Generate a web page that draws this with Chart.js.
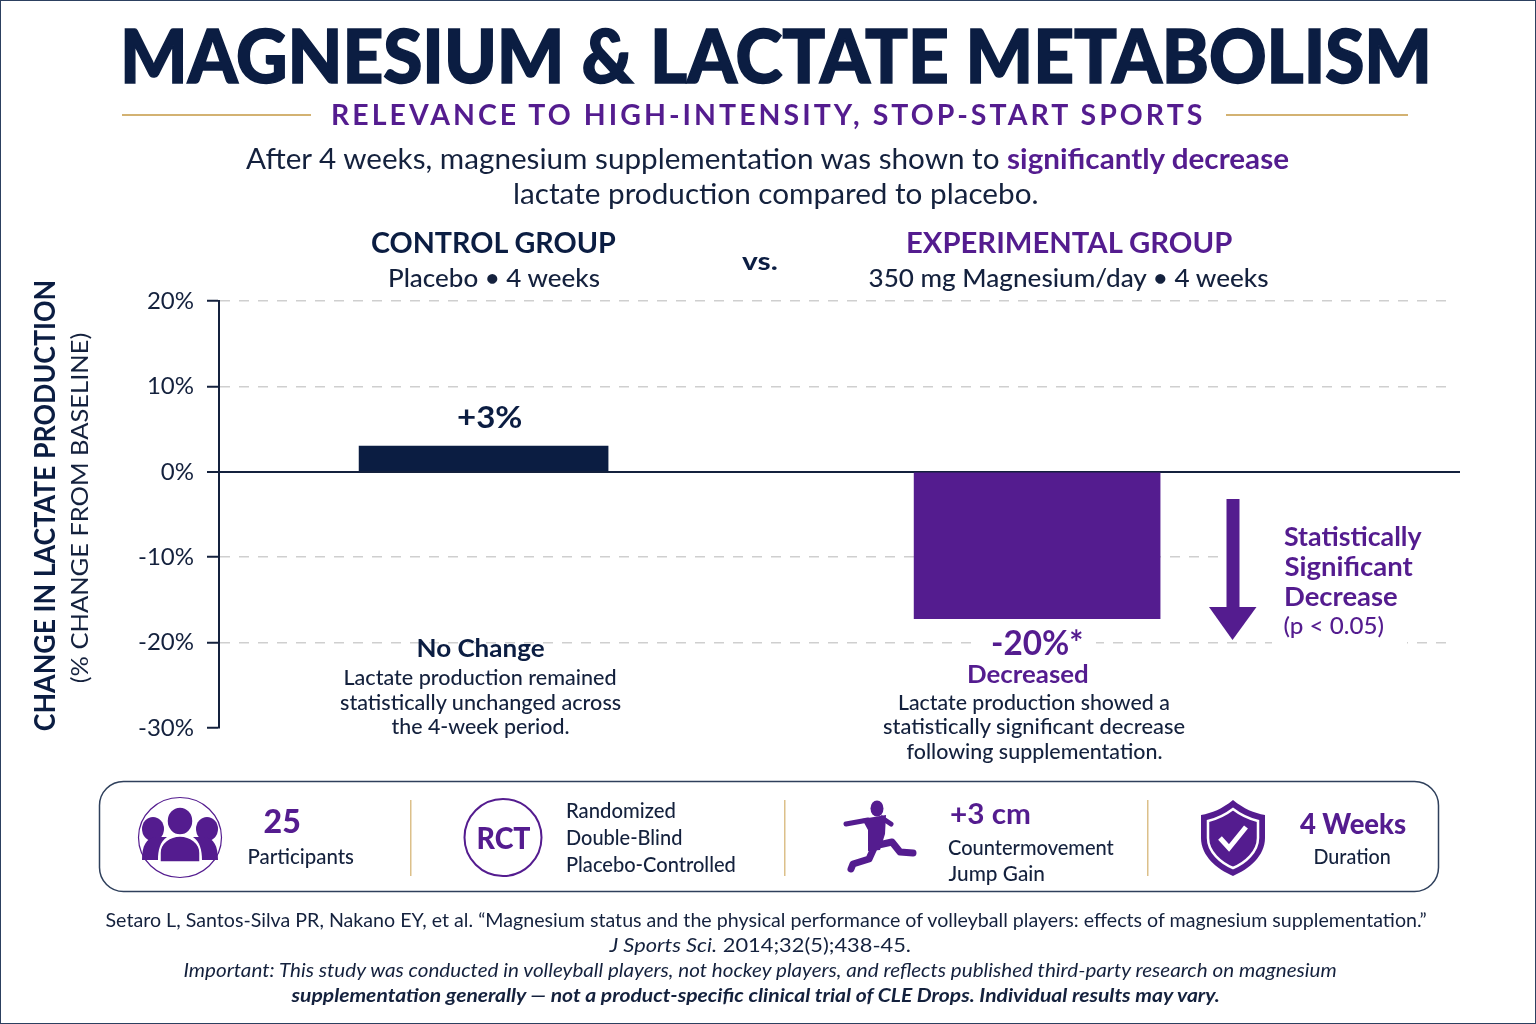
<!DOCTYPE html>
<html>
<head>
<meta charset="utf-8">
<title>Magnesium & Lactate Metabolism</title>
<script src="https://cdn.jsdelivr.net/npm/chart.js@4"></script>
<style>
  html, body { margin: 0; padding: 0; background: #fff; }
  body { width: 1536px; height: 1024px; overflow: hidden; position: relative; font-family: Lato, sans-serif; color: #14213d; }
  #frame { position: absolute; inset: 0; border: 1px solid #2c4060; box-sizing: border-box; z-index: 9; pointer-events: none; }
  canvas { position: absolute; left: 0; top: 0; }
  svg { position: absolute; left: 0; top: 0; }
  .t { position: absolute; white-space: nowrap; line-height: 1; transform-origin: center center; }
  .b { font-weight: 700; }
  .p { color: #541c8f; }
  .n { color: #0b1d42; }
  .mask { position: absolute; background: #fff; }
</style>
</head>
<body>
<div id="frame"></div>
<canvas id="myChart" width="1536" height="1024"></canvas>

<div class="mask" style="left:1240px;top:525px;width:225px;height:55px"></div>
<div class="mask" style="left:1272px;top:630px;width:135px;height:20px"></div>
<div class="mask" style="left:976px;top:630px;width:120px;height:24px"></div>
<div class="mask" style="left:1453px;top:295px;width:10px;height:170px"></div>
<div class="mask" style="left:1453px;top:480px;width:10px;height:170px"></div>

<svg width="1536" height="1024" viewBox="0 0 1536 1024">
  <!-- gold rules -->
  <rect x="122" y="114" width="189" height="2" fill="#d3b272"/>
  <rect x="1226" y="114" width="182" height="2" fill="#d3b272"/>

  <!-- arrow -->
  <rect x="1226.500" y="499" width="13" height="110" fill="#541c8f"/>
  <polygon points="1209,607 1256.500,607 1232.500,640" fill="#541c8f"/>

  <!-- panel -->
  <rect x="99.500" y="781.500" width="1339" height="110" rx="24" fill="#fff" stroke="#2f405c" stroke-width="1.500"/>
  <rect x="410" y="800" width="1.500" height="76" fill="#dcc08a"/>
  <rect x="784" y="800" width="1.500" height="76" fill="#dcc08a"/>
  <rect x="1147" y="800" width="1.500" height="76" fill="#dcc08a"/>

  <!-- participants icon -->
  <ellipse cx="180" cy="837.500" rx="41.500" ry="40" fill="#fff" stroke="#541c8f" stroke-width="1.200"/>
  <g fill="#541c8f">
    <ellipse cx="153" cy="829" rx="11" ry="12"/>
    <ellipse cx="207" cy="829" rx="11" ry="12"/>
    <path d="M142 860 C142 846 146 838 156 837 L167 837 C160 842 158 850 158 860 Z"/>
    <path d="M218 860 C218 846 214 838 204 837 L193 837 C200 842 202 850 202 860 Z"/>
    <ellipse cx="180" cy="821" rx="13" ry="14" stroke="#fff" stroke-width="1.500"/>
    <path d="M160 862 L160 853 C160 843 170 836 180 836 C190 836 200 843 200 853 L200 862 Z" stroke="#fff" stroke-width="1.500"/>
  </g>

  <!-- RCT icon -->
  <circle cx="503" cy="837.500" r="38.500" fill="#fff" stroke="#541c8f" stroke-width="2"/>

  <!-- jumper icon -->
  <g fill="none" stroke="#541c8f" stroke-linecap="round" stroke-linejoin="round">
    <path d="M846 824 L868 820" stroke-width="5"/>
    <path d="M882 818 L891 824" stroke-width="5"/>
    <path d="M874 846 L892 842 L900 852 L913 853" stroke-width="7"/>
    <path d="M874 848 L869 859 L853 864 L851 869" stroke-width="7"/>
  </g>
  <g fill="#541c8f">
    <ellipse cx="877" cy="808.500" rx="6.500" ry="8"/>
    <path d="M862 819 L886 815 L885 834 L880 850 L868 851 L868 830 Z"/>
  </g>

  <!-- shield icon -->
  <path d="M1233 800 C1222 809 1212 813 1201 815 L1201 838 C1201 856 1217 869 1233 876 C1249 869 1265 856 1265 838 L1265 815 C1254 813 1244 809 1233 800 Z" fill="#541c8f"/>
  <path d="M1233 809 C1224 816 1216 819 1208 821 L1208 838 C1208 852 1221 863 1233 868 C1245 863 1258 852 1258 838 L1258 821 C1250 819 1242 816 1233 809 Z" fill="none" stroke="#fff" stroke-width="2.500"/>
  <path d="M1220 838 L1229 848 L1246 827" fill="none" stroke="#fff" stroke-width="5"/>
</svg>

<!-- header -->
<div class="t b n" data-c="776,56.500" data-w="1312" style="font-size:74px;font-weight:900;-webkit-text-stroke:1.500px #0b1d42">MAGNESIUM &amp; LACTATE METABOLISM</div>
<div class="t b p" data-c="768,115" data-w="874" style="font-size:28px;letter-spacing:3px">RELEVANCE TO HIGH-INTENSITY, STOP-START SPORTS</div>
<div class="t" data-c="767,159" data-w="1043" style="font-size:28px">After 4 weeks, magnesium supplementation was shown to <span class="b p">significantly decrease</span></div>
<div class="t" data-c="776,194" data-w="526" style="font-size:28px">lactate production compared to placebo.</div>

<!-- group headers -->
<div class="t b n" data-c="493,243" data-w="245" style="font-size:28px">CONTROL GROUP</div>
<div class="t" data-c="494,279" data-w="212" style="font-size:25px;font-weight:500">Placebo • 4 weeks</div>
<div class="t b n" data-c="760,262" data-w="36" style="font-size:25px">vs.</div>
<div class="t b p" data-c="1069,243" data-w="326" style="font-size:28px">EXPERIMENTAL GROUP</div>
<div class="t" data-c="1068,279" data-w="400" style="font-size:25px;font-weight:500">350 mg Magnesium/day • 4 weeks</div>

<!-- axis titles -->
<div class="t b n" data-c="43,507" data-w="451" data-rot="1" style="font-size:29px">CHANGE IN LACTATE PRODUCTION</div>
<div class="t" data-c="79,509" data-w="350" data-rot="1" style="font-size:24px">(% CHANGE FROM BASELINE)</div>

<!-- bar notes -->
<div class="t b n" data-c="489,418" data-w="65" style="font-size:31px">+3%</div>
<div class="t b n" data-c="480,649" data-w="128" style="font-size:25px">No Change</div>
<div class="t" data-c="480,678" data-w="273" style="font-size:21px;font-weight:500">Lactate production remained</div>
<div class="t" data-c="480,703" data-w="281" style="font-size:21px;font-weight:500">statistically unchanged across</div>
<div class="t" data-c="480,727" data-w="178" style="font-size:21px;font-weight:500">the 4-week period.</div>

<div class="t b p" data-c="1037,643" data-w="92" style="font-size:34px">-20%*</div>
<div class="t b p" data-c="1028,675" data-w="122" style="font-size:25px">Decreased</div>
<div class="t" data-c="1034,703" data-w="272" style="font-size:21px;font-weight:500">Lactate production showed a</div>
<div class="t" data-c="1034,727" data-w="302" style="font-size:21px;font-weight:500">statistically significant decrease</div>
<div class="t" data-c="1034,752" data-w="256" style="font-size:21px;font-weight:500">following supplementation.</div>

<div class="t b p" data-c="1353,537" data-w="138" style="font-size:26px">Statistically</div>
<div class="t b p" data-c="1348,567" data-w="128" style="font-size:26px">Significant</div>
<div class="t b p" data-c="1341,597" data-w="114" style="font-size:26px">Decrease</div>
<div class="t p" data-c="1334,627" data-w="101" style="font-size:23px;font-weight:500">(p &lt; 0.05)</div>

<!-- study panel -->
<div class="t b p" data-c="282,822" data-w="37" style="font-size:33px;font-weight:900">25</div>
<div class="t" data-c="300,857" data-w="106" style="font-size:21px;font-weight:500">Participants</div>
<div class="t b p" data-c="503,838" data-w="54" style="font-size:30px;font-weight:900">RCT</div>
<div class="t" data-c="621,811" data-w="110" style="font-size:21px;font-weight:500">Randomized</div>
<div class="t" data-c="624,838" data-w="116" style="font-size:21px;font-weight:500">Double-Blind</div>
<div class="t" data-c="651,865" data-w="170" style="font-size:21px;font-weight:500">Placebo-Controlled</div>
<div class="t b p" data-c="990,814" data-w="81" style="font-size:29px">+3 cm</div>
<div class="t" data-c="1031,848" data-w="166" style="font-size:21px;font-weight:500">Countermovement</div>
<div class="t" data-c="996,874" data-w="96" style="font-size:21px;font-weight:500">Jump Gain</div>
<div class="t b p" data-c="1353,824" data-w="106" style="font-size:29px;font-weight:900">4 Weeks</div>
<div class="t" data-c="1352,857" data-w="77" style="font-size:21px;font-weight:500">Duration</div>

<!-- citation -->
<div class="t" data-c="766,921" data-w="1321" style="font-size:19px">Setaro L, Santos-Silva PR, Nakano EY, et al. “Magnesium status and the physical performance of volleyball players: effects of magnesium supplementation.”</div>
<div class="t" data-c="760,946" data-w="301" style="font-size:19px"><i>J Sports Sci.</i> 2014;32(5);438-45.</div>
<div class="t" data-c="760,971" data-w="1153" style="font-size:19px;font-style:italic">Important: This study was conducted in volleyball players, not hockey players, and reflects published third-party research on magnesium</div>
<div class="t b" data-c="755,996" data-w="928" style="font-size:19px;font-style:italic">supplementation generally — not a product-specific clinical trial of CLE Drops. Individual results may vary.</div>

<script>
// dados do grafico
const categorias = ['Control Group', 'Experimental Group']
const valores = [3, -17.2]
const coresBarras = ['#0b1d42', '#541c8f']
const largurasBarras = [249, 246]
const ticksY = [20, 10, 0, -10, -20, -30]

const ctx = document.getElementById('myChart')

// one dataset per group, so each bar keeps its own width
const datasets = categorias.map((nome, i) => ({
  label: nome,
  data: [{ x: i, y: valores[i] }],
  backgroundColor: coresBarras[i],
  barThickness: largurasBarras[i],
  grouped: false
}))

const config = {
  type: 'bar',
  data: { datasets },
  options: {
    responsive: false,
    animation: false,
    layout: { padding: { left: 119, right: 76, top: 301, bottom: 296 } },
    plugins: { legend: { display: false }, tooltip: { enabled: false } },
    scales: {
      x: { type: 'linear', offset: false, min: -0.478, max: 1.764, display: false },
      y: {
        min: -30,
        max: 20,
        afterFit: scale => { scale.width = 100 },
        afterBuildTicks: scale => { scale.ticks = ticksY.map(value => ({ value })) },
        ticks: {
          callback: v => v + '%',
          color: '#14213d',
          padding: 13,
          font: { family: 'Lato', size: 24 }
        },
        border: {
          display: true,
          color: '#14213d',
          width: 2,
          dash: c => c.tick && c.tick.value === 0 ? [] : [10, 9]
        },
        grid: {
          color: c => c.tick.value === 0 ? '#14213d' : (c.tick.value === -30 ? 'rgba(0,0,0,0)' : '#cfcfcf'),
          lineWidth: c => c.tick.value === 0 ? 2 : 1.5,
          tickColor: '#14213d',
          tickLength: 12,
          tickWidth: 2
        }
      }
    }
  }
}

const myChart = new Chart(ctx, config)

// place the labels by centre and stretch them to the measured width
document.querySelectorAll('.t').forEach(el => {
  const [cx, cy] = el.dataset.c.split(',').map(Number)
  const w = el.offsetWidth
  const h = el.offsetHeight
  el.style.left = (cx - w / 2) + 'px'
  el.style.top = (cy - 1.5 - h / 2) + 'px'
  const rot = el.dataset.rot ? 'rotate(-90deg) ' : ''
  el.style.transform = rot + 'scaleX(' + (Number(el.dataset.w) / w) + ')'
})
</script>
</body>
</html>
